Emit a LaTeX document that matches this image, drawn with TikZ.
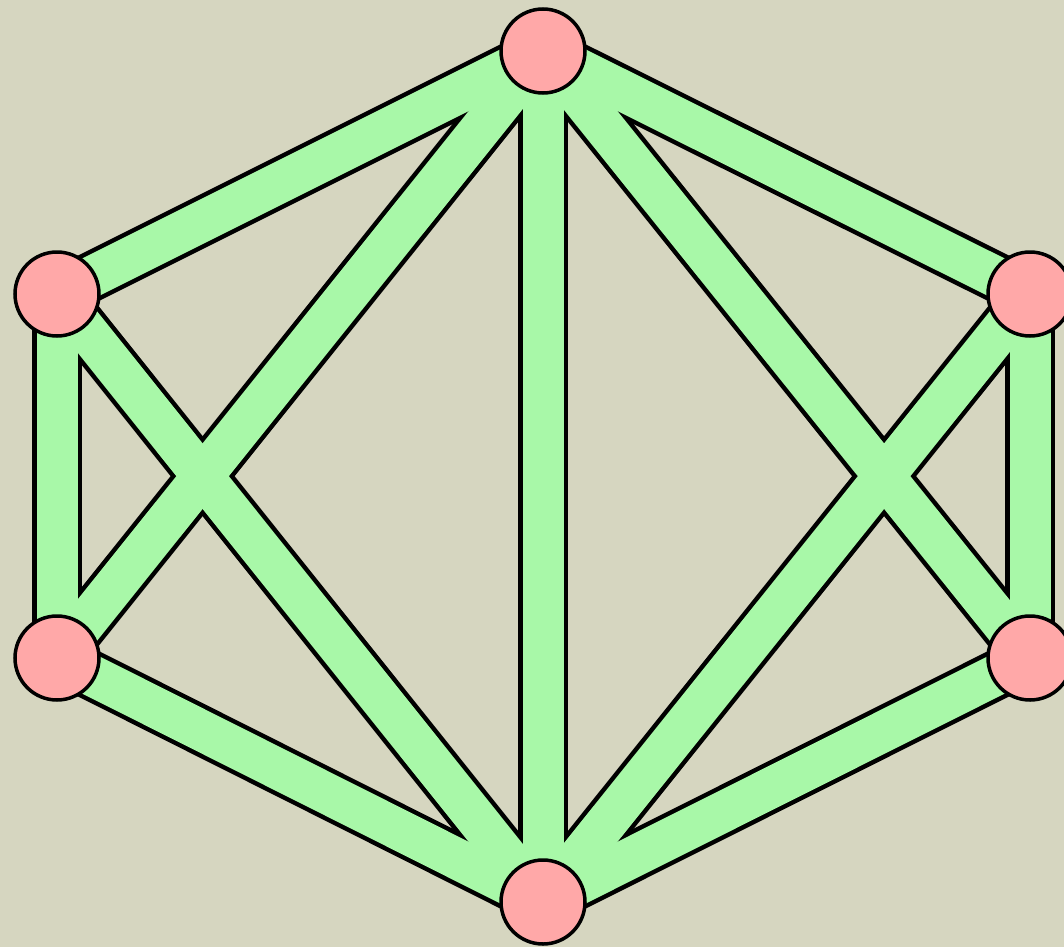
\documentclass[tikz,border=0pt]{standalone}
\definecolor{bgc}{RGB}{214,214,192}
\definecolor{edgegreen}{RGB}{168,248,168}
\definecolor{nodepink}{RGB}{255,168,168}
\begin{document}
\begin{tikzpicture}[x=1pt,y=-1pt,
  vtx/.style={circle,draw=black,line width=3.5pt,fill=nodepink,minimum size=84pt,inner sep=0pt},
  edgeout/.style={draw=black,line width=50pt},
  edgein/.style={draw=edgegreen,line width=41pt}]
\fill[bgc] (0,0) rectangle (1064,947);
\useasboundingbox (0,0) rectangle (1064,947);
\coordinate (T) at (543,51);
\coordinate (LU) at (57,294);
\coordinate (LL) at (57,658);
\coordinate (RU) at (1030,294);
\coordinate (RL) at (1030,658);
\coordinate (B) at (543,902);
\foreach \s in {edgeout,edgein}{
  \path[\s] (T) -- (LU);
  \path[\s] (T) -- (RU);
  \path[\s] (T) -- (B);
  \path[\s] (T) -- (LL);
  \path[\s] (T) -- (RL);
  \path[\s] (LU) -- (LL);
  \path[\s] (LU) -- (B);
  \path[\s] (RU) -- (RL);
  \path[\s] (RU) -- (B);
  \path[\s] (LL) -- (B);
  \path[\s] (RL) -- (B);
}
\node[vtx] (nT) at (T) {};
\node[vtx] (nLU) at (LU) {};
\node[vtx] (nLL) at (LL) {};
\node[vtx] (nRU) at (RU) {};
\node[vtx] (nRL) at (RL) {};
\node[vtx] (nB) at (B) {};
\end{tikzpicture}
\end{document}
